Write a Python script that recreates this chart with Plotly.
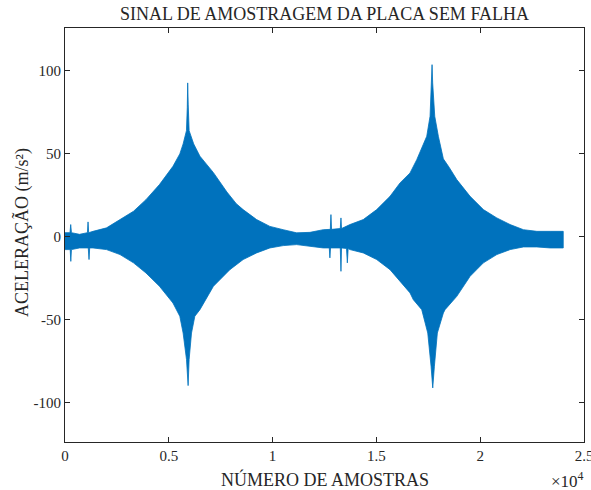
import plotly.graph_objects as go

# Envelope of the vibration signal (sample index, acceleration m/s^2)
upper_samples = [0, 240, 275, 310, 700, 1080, 1110, 1140, 1350, 2000, 2650, 3300, 3900, 4550,
                 5200, 5530, 5690, 5850, 5890, 5910, 5935, 5980, 6200, 6500, 7150, 7800, 8250,
                 8580, 9230, 9870, 10510, 11160, 11800, 12440, 12780, 12810, 12840, 13090,
                 13260, 13293, 13320, 13727, 14368, 15014, 15656, 16138, 16620, 16943, 17425,
                 17585, 17650, 17681, 17710, 17810, 17985, 18226, 18500, 18872, 19513, 20154,
                 20800, 21441, 22083, 22729, 23370, 24000]
upper_values = [2.5, 2.5, 7.4, 2.5, 1.5, 2.5, 9.0, 2.5, 3.3, 5.4, 10.4, 15.4, 22.4, 31.5,
                42.5, 50.0, 56.0, 64.0, 78.0, 92.8, 80.0, 64.0, 56.0, 48.6, 38.7, 27.0, 20.0,
                16.4, 10.4, 6.3, 4.3, 2.4, 2.7, 4.3, 4.5, 13.4, 4.5, 4.8,
                5.0, 11.4, 5.0, 7.4, 10.4, 16.4, 24.4, 32.5, 38.5, 46.5, 60.6,
                72.7, 92.8, 103.8, 92.8, 72.7, 60.6, 47.0, 42.0, 34.5, 24.4, 16.4,
                11.4, 7.4, 4.3, 3.3, 3.3, 3.3]

lower_samples = [0, 250, 280, 310, 700, 1120, 1157, 1190, 1350, 2000, 2650, 3300, 3900, 4550,
                 5200, 5530, 5690, 5853, 5930, 5979, 6094, 6254, 6500, 7150, 7800, 7941, 8582,
                 9229, 9870, 10511, 11157, 11798, 12440, 12730, 12760, 12790, 13260, 13293,
                 13320, 13560, 13600, 13640, 13727, 14368, 15014, 15656, 16138, 16620, 16779,
                 17184, 17474, 17633, 17714, 17794, 17936, 18226, 18308, 18872, 19513, 20154,
                 20800, 21441, 22083, 22729, 23370, 24000]
lower_values = [-7.7, -7.7, -14.8, -7.7, -6.7, -6.7, -13.7, -6.7, -6.7, -7.7, -10.7, -15.7,
                -21.8, -29.8, -39.9, -47.9, -58.0, -74.0, -89.7, -74.0, -58.0, -47.9, -43.9,
                -29.8, -21.6, -19.8, -13.7, -9.7, -6.7, -5.3, -4.7, -5.7, -6.7, -6.7, -12.7,
                -6.7, -6.7, -20.8, -6.7, -7.0, -15.7, -7.0, -7.7, -9.7, -13.7, -19.8, -27.0,
                -33.8, -37.9, -43.9, -58.0, -78.0, -91.1, -78.0, -58.0, -45.9, -43.9, -35.9,
                -23.8, -15.7, -10.7, -7.7, -6.1, -6.1, -6.7, -6.7]

x_tick_values = [0, 5000, 10000, 15000, 20000, 25000]
x_tick_labels = ["0", "0.5", "1", "1.5", "2", "2.5"]
y_tick_values = [-100, -50, 0, 50, 100]
y_tick_labels = ["-100", "-50", "0", "50", "100"]

SERIF = "Liberation Serif, Times New Roman, serif"
AXIS_COLOR = "#262626"
LINE_COLOR = "#0072BD"

poly_x = upper_samples + lower_samples[::-1]
poly_y = upper_values + lower_values[::-1]

fig = go.Figure()
fig.add_trace(go.Scatter(
    x=poly_x, y=poly_y, mode="lines", fill="toself",
    fillcolor=LINE_COLOR, line=dict(color=LINE_COLOR, width=0.8),
    hoverinfo="skip", showlegend=False,
))

axis_common = dict(
    showline=True, linecolor=AXIS_COLOR, linewidth=1, mirror="ticks",
    ticks="inside", ticklen=5, tickcolor=AXIS_COLOR, tickwidth=1,
    showgrid=False, zeroline=False, automargin=False,
    tickfont=dict(family=SERIF, size=15, color=AXIS_COLOR),
)

fig.update_layout(
    width=591, height=490,
    margin=dict(l=65, r=7, t=28, b=48),
    paper_bgcolor="white", plot_bgcolor="white",
    xaxis=dict(range=[0, 25000], tickvals=x_tick_values, ticktext=x_tick_labels,
               ticklabeloverflow="allow", **axis_common),
    yaxis=dict(range=[-123.7, 125.9], tickvals=y_tick_values, ticktext=y_tick_labels, **axis_common),
    annotations=[
        dict(text="SINAL DE AMOSTRAGEM DA PLACA SEM FALHA", xref="paper", yref="paper",
             x=0.5, y=1, yshift=14, xanchor="center", yanchor="middle", showarrow=False,
             font=dict(family=SERIF, size=18, color=AXIS_COLOR)),
        dict(text="NÚMERO DE AMOSTRAS", xref="paper", yref="paper",
             x=0.5, y=0, yshift=-37, xanchor="center", yanchor="middle", showarrow=False,
             font=dict(family=SERIF, size=18, color=AXIS_COLOR)),
        dict(text="ACELERAÇÃO (m/s²)", xref="paper", yref="paper", textangle=-90,
             x=0, xshift=-43, y=0.505, xanchor="center", yanchor="middle", showarrow=False,
             font=dict(family=SERIF, size=18, color=AXIS_COLOR)),
        dict(text="×10<sup>4</sup>", xref="paper", yref="paper",
             x=1, y=0, xshift=-17, yshift=-38, xanchor="center", yanchor="middle", showarrow=False,
             font=dict(family=SERIF, size=17, color=AXIS_COLOR)),
    ],
)

fig.write_html("out.html", config={"displayModeBar": False},
               post_script="document.body.style.margin='0';")
